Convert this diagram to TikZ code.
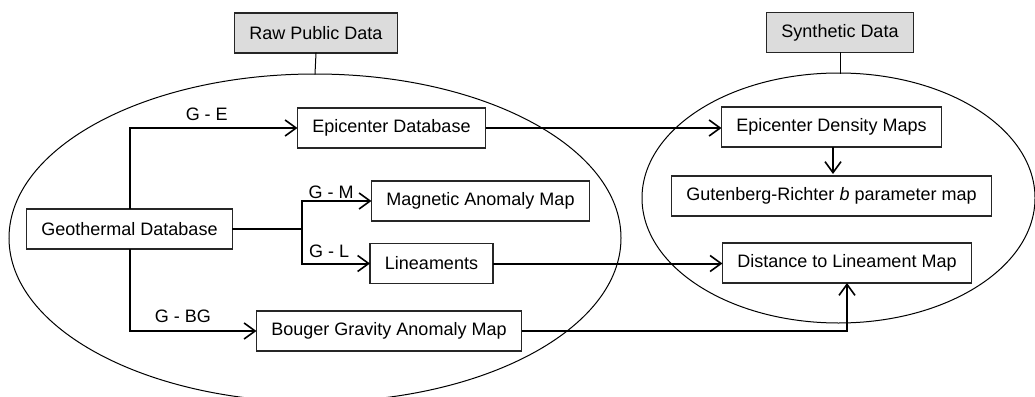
\documentclass[tikz,border=0pt]{standalone}
\usepackage{fontspec}
\setmainfont{Liberation Sans}
\usetikzlibrary{shapes.geometric,arrows.meta}

\begin{document}
\begin{tikzpicture}[x=1pt,y=-1pt,line cap=rect,
    txt/.style={font=\fontsize{18pt}{21pt}\selectfont},
    databox/.style={txt, draw=black!85, line width=1.3pt, inner xsep=15pt, inner ysep=0pt, minimum height=40pt, outer sep=0pt},
    headbox/.style={databox, fill=custcol_dc_dc_dc},
    region/.style={draw, ellipse, line width=1pt, inner sep=0pt, outer sep=0pt},
    link/.style={line width=2pt, line cap=butt, -{Straight Barb[length=11pt,width=16pt,line width=1.6pt]}},
    tag/.style={txt, inner sep=2pt}]
        \definecolor{custcol_dc_dc_dc}{RGB}{220, 220, 220}
        \useasboundingbox (0,0) rectangle (1035,396);
        % the two groups
        \node[region, minimum width=612pt, minimum height=328pt] (public) at (315,238) {};
        \node[region, minimum width=393pt, minimum height=250pt] (synth) at (838.5,198) {};
        \node[headbox] (raw) at (316,33) {Raw Public Data};
        \node[headbox] (syn) at (840,32.5) {Synthetic Data};
        \draw [line width=1pt] (raw.south) -- (public.north);
        \draw [line width=1pt] (syn.south) -- (syn.south |- synth.north);
        % raw public data
        \node[databox] (geo) at (129.5,229) {Geothermal Database};
        \node[databox] (epi) at (391.5,128) {Epicenter Database};
        \node[databox] (mag) at (480.5,201) {Magnetic Anomaly Map};
        \node[databox] (lin) at (431.5,263.5) {Lineaments};
        \node[databox] (bou) at (389,331) {Bouger Gravity Anomaly Map};
        % synthetic data
        \node[databox] (epd) at (831.5,127) {Epicenter Density Maps};
        \node[databox] (gut) at (831.5,196) {Gutenberg-Richter \textit{b} parameter map};
        \node[databox] (dist) at (847,263) {Distance to Lineament Map};
        \coordinate (split) at (302,229);
        \draw [link] (geo.north) |- (epi.west) node[tag, pos=0.73, above, inner sep=6pt] {G - E};
        \draw [line width=2pt] (geo.east) -- (split);
        \draw [link] (split) |- (mag.west) node[tag, pos=0.71, above, inner sep=1pt] {G - M};
        \draw [link] (split) |- (lin.west) node[tag, pos=0.70, above, inner sep=5pt] {G - L};
        \draw [link] (geo.south) |- (bou.west) node[tag, pos=0.71, above, inner sep=7pt] {G - BG};
        \draw [link] (epi.east) -- (epi.east -| epd.west);
        \draw [link] (epd.south -| gut.north) ++(1.5,0) -- ++(0,27);
        \draw [link] (lin.east) -- (lin.east -| dist.west);
        \draw [link] (bou.east) -| (dist.south);
\end{tikzpicture}
\end{document}
